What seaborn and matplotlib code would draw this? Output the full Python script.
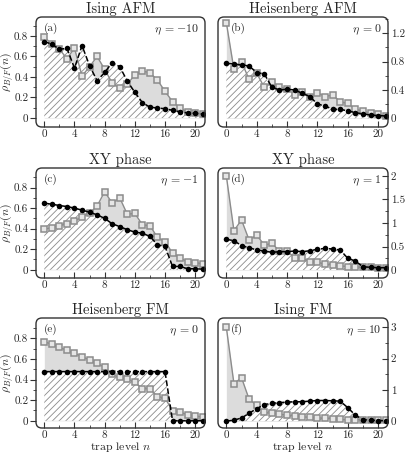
import matplotlib
matplotlib.use('Agg')
import matplotlib.pyplot as plt
from matplotlib.patches import FancyBboxPatch
from matplotlib.ticker import MultipleLocator, FuncFormatter
import numpy as np
import seaborn as sns

# trap levels
levels = list(range(22))

titles = ['Ising AFM', 'Heisenberg AFM', 'XY phase', 'XY phase', 'Heisenberg FM', 'Ising FM']
panel_tags = ['(a)', '(b)', '(c)', '(d)', '(e)', '(f)']
etas = [r'$\eta\;= -10$', r'$\eta\;= 0$', r'$\eta\;= -1$', r'$\eta\;= 1$', r'$\eta\;= 0$', r'$\eta\;= 10$']

# bosons (grey squares)
bose_a = [0.79, 0.72, 0.67, 0.58, 0.68, 0.41, 0.50, 0.60, 0.475, 0.34, 0.29, 0.33, 0.42, 0.46, 0.44, 0.37,
          0.26, 0.16, 0.095, 0.06, 0.05, 0.04]
bose_b = [1.35, 0.69, 0.795, 0.55, 0.635, 0.438, 0.517, 0.438, 0.42, 0.33, 0.376, 0.296, 0.362, 0.306, 0.33,
          0.235, 0.21, 0.127, 0.104, 0.07, 0.056, 0.038]
bose_c = [0.395, 0.41, 0.43, 0.444, 0.476, 0.51, 0.55, 0.62, 0.76, 0.648, 0.70, 0.54, 0.55, 0.437, 0.43,
          0.314, 0.275, 0.162, 0.113, 0.08, 0.07, 0.058]
bose_d = [2.0, 0.837, 1.064, 0.638, 0.745, 0.53, 0.567, 0.404, 0.404, 0.262, 0.248, 0.177, 0.163, 0.128,
          0.106, 0.092, 0.07, 0.07, 0.057, 0.057, 0.05, 0.05]
bose_e = [0.768, 0.742, 0.713, 0.684, 0.655, 0.623, 0.59, 0.558, 0.52, 0.45, 0.42, 0.405, 0.374, 0.31, 0.31,
          0.235, 0.22, 0.097, 0.084, 0.058, 0.048, 0.035]
bose_f = [3.0, 1.2, 1.39, 0.7, 0.51, 0.28, 0.245, 0.22, 0.19, 0.17, 0.14, 0.12, 0.11, 0.085, 0.075, 0.053,
          0.043, 0.043, 0.05, 0.05, 0.043, 0.03]

# fermions (black dots)
fermi_a = [0.745, 0.72, 0.67, 0.68, 0.486, 0.706, 0.51, 0.363, 0.444, 0.54, 0.50, 0.36, 0.25, 0.15, 0.105,
           0.097, 0.09, 0.075, 0.058, 0.05, 0.045, 0.04]
fermi_b = [0.776, 0.767, 0.753, 0.739, 0.645, 0.626, 0.438, 0.40, 0.41, 0.40, 0.353, 0.306, 0.202, 0.174,
           0.127, 0.127, 0.104, 0.08, 0.061, 0.047, 0.038, 0.033]
fermi_c = [0.648, 0.638, 0.625, 0.615, 0.60, 0.58, 0.56, 0.534, 0.50, 0.447, 0.42, 0.39, 0.366, 0.356,
           0.324, 0.243, 0.227, 0.032, 0.032, 0.01, 0.01, 0.006]
fermi_d = [0.652, 0.624, 0.518, 0.475, 0.426, 0.404, 0.376, 0.39, 0.39, 0.404, 0.39, 0.41, 0.44, 0.46,
           0.447, 0.426, 0.25, 0.19, 0.07, 0.057, 0.05, 0.05]
fermi_e = [0.477] * 17 + [0.0] * 5
fermi_f = [0.0, 0.03, 0.1, 0.25, 0.4, 0.53, 0.57, 0.59, 0.61, 0.62, 0.62, 0.64, 0.66, 0.66, 0.65, 0.64,
           0.43, 0.19, 0.05, 0.03, 0.02, 0.01]

bose = [bose_a, bose_b, bose_c, bose_d, bose_e, bose_f]
fermi = [fermi_a, fermi_b, fermi_c, fermi_d, fermi_e, fermi_f]

ylims = [(-0.088, 0.985), (-0.123, 1.43), (-0.08, 0.99), (-0.17, 2.17), (-0.07, 0.997), (-0.22, 3.3)]
yticks = [(0.2, 0.1), (0.4, 0.2), (0.2, 0.1), (0.5, 0.25), (0.2, 0.1), (1.0, 0.5)]

sns.set_style('white')
plt.rcParams['font.family'] = 'serif'
plt.rcParams['font.serif'] = ['cmr10', 'DejaVu Serif']
plt.rcParams['mathtext.fontset'] = 'cm'
plt.rcParams['axes.formatter.use_mathtext'] = True
plt.rcParams['hatch.linewidth'] = 0.6

fig = plt.figure(figsize=(4.15, 4.55), dpi=100)

col_x = [36 / 415, 218 / 415]
col_w = [169 / 415, 170 / 415]
row_b = [1 - 127 / 455, 1 - 278 / 455, 1 - 428 / 455]
row_h = 110 / 455

grey_line = '#8c8c8c'
grey_fill = '#dcdcdc'
frame_col = '#333333'

for i in range(6):
    r, c = divmod(i, 2)
    ax = fig.add_axes([col_x[c], row_b[r], col_w[c], row_h])
    x = np.array(levels)
    b = np.array(bose[i])
    f = np.array(fermi[i])

    ax.fill_between(x, 0, b, color=grey_fill, lw=0, zorder=1)
    ax.fill_between(x, 0, f, facecolor='white', edgecolor='#8a8a8a', hatch='/////', lw=0, zorder=2)
    sns.lineplot(x=x, y=b, ax=ax, color=grey_line, lw=1.0, marker='s', markersize=4.5,
                 markerfacecolor='#e6e6e6', markeredgecolor='#8c8c8c', markeredgewidth=1.1, zorder=3)
    sns.lineplot(x=x, y=f, ax=ax, color='black', lw=1.1, linestyle='--', marker='o', markersize=4,
                 markeredgecolor='black', markeredgewidth=0, zorder=4)

    ax.set_xlim(-1.1, 21.3)
    ax.set_ylim(*ylims[i])
    ax.xaxis.set_major_locator(MultipleLocator(4))
    ax.xaxis.set_minor_locator(MultipleLocator(2))
    ax.yaxis.set_major_locator(MultipleLocator(yticks[i][0]))
    ax.yaxis.set_minor_locator(MultipleLocator(yticks[i][1]))
    fmt = FuncFormatter(lambda v, p: '%g' % round(v, 3))
    ax.xaxis.set_major_formatter(fmt)
    ax.yaxis.set_major_formatter(fmt)

    for s in ax.spines.values():
        s.set_visible(False)
    w_px = col_w[c] * 415
    h_px = row_h * 455
    box = FancyBboxPatch((0, 0), 1, 1, boxstyle='round,pad=0,rounding_size=0.035',
                         mutation_aspect=w_px / h_px, transform=ax.transAxes,
                         fill=False, ec=frame_col, lw=1.0, clip_on=False, zorder=10)
    ax.add_patch(box)

    ax.tick_params(axis='x', which='both', direction='in', bottom=True, top=False,
                   labelsize=8, pad=2, color=frame_col)
    ax.tick_params(axis='x', which='major', length=4)
    ax.tick_params(axis='x', which='minor', length=2.5)
    if c == 0:
        ax.tick_params(axis='y', which='both', direction='out', left=True, right=False,
                       labelleft=True, labelright=False, labelsize=8, pad=1.5, color=frame_col)
        ax.set_ylabel(r'$\rho_{B/F}(n)$', fontsize=8.5)
        ax.yaxis.set_label_coords(-0.122, 0.5)
    else:
        ax.tick_params(axis='y', which='both', direction='in', left=False, right=True,
                       labelleft=False, labelright=True, labelsize=8, pad=2, color=frame_col)
        ax.set_ylabel('')
    ax.tick_params(axis='y', which='major', length=4)
    ax.tick_params(axis='y', which='minor', length=2.5)

    if r == 2:
        ax.set_xlabel(r'trap level $n$', fontsize=8.5, labelpad=0)
    else:
        ax.set_xlabel('')

    ax.set_title(titles[i], fontsize=10.5, pad=3)
    ax.text(0.045 if c == 0 else 0.075, 0.95, panel_tags[i], transform=ax.transAxes,
            ha='left', va='top', fontsize=8, zorder=11)
    ax.text(0.96, 0.95, etas[i], transform=ax.transAxes, ha='right', va='top', fontsize=8.5, zorder=11)

fig.savefig('out.png', dpi=100)
